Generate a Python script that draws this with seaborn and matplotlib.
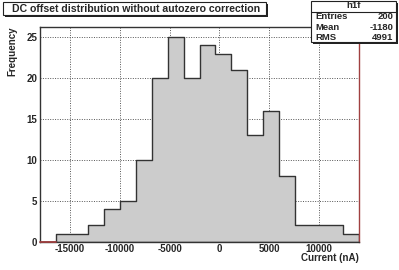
import matplotlib
matplotlib.use("Agg")
import matplotlib.pyplot as plt
import seaborn as sns
import numpy as np
from matplotlib.patches import Rectangle
from matplotlib.ticker import MultipleLocator

# ---- data ----
bin_edges = [-18000, -16400, -14800, -13200, -11600, -10000, -8400, -6800, -5200,
             -3600, -2000, -400, 1200, 2800, 4400, 6000, 7600, 9200, 10800, 12400, 14000]
counts = [0, 1, 1, 2, 4, 5, 10, 20, 25, 20, 24, 23, 21, 13, 16, 8, 2, 2, 2, 1]
x_ticks = [-15000, -10000, -5000, 0, 5000, 10000]
y_ticks = [0, 5, 10, 15, 20, 25]
title = "DC offset distribution without autozero correction"
stats_name = "h1f"
stats_labels = ["Entries", "Mean", "RMS"]
stats_values = ["200", "-1180", "4991"]
x_label = "Current (nA)"
y_label = "Frequency"

centers = [(a + b) / 2 for a, b in zip(bin_edges[:-1], bin_edges[1:])]

sns.set_style("white")
plt.rcParams['font.family'] = ['Liberation Sans', 'DejaVu Sans']
plt.rcParams['axes.unicode_minus'] = False

W, H = 399, 270
fig = plt.figure(figsize=(W / 100, H / 100), dpi=100)
ax = fig.add_axes([40 / W, 1 - 241.7 / H, 319 / W, (241.7 - 27) / H])

ax.set_axisbelow(True)
ax.grid(True, which="major", linestyle=(0, (1, 1.5)), color="#555555", linewidth=0.7)

sns.histplot(x=centers, weights=counts, bins=bin_edges, element="step", fill=True,
             color="#cccccc", edgecolor="#333333", linewidth=1.0, alpha=1.0, ax=ax,
             zorder=2)

ax.set_xlim(bin_edges[0], bin_edges[-1])
ax.set_ylim(0, 26.25)
ax.set_xticks(x_ticks)
ax.set_yticks(y_ticks)
ax.xaxis.set_minor_locator(MultipleLocator(1000))
ax.yaxis.set_minor_locator(MultipleLocator(1))
ax.tick_params(axis="both", which="major", direction="in", length=5, width=0.8,
               color="#333333", labelsize=7, pad=2)
ax.tick_params(axis="both", which="minor", direction="in", length=2.5, width=0.8,
               color="#333333")
ax.tick_params(top=False, right=False, which="both")
for lab in ax.get_xticklabels() + ax.get_yticklabels():
    lab.set_fontweight("bold")

for s in ["left", "top", "bottom"]:
    ax.spines[s].set_color("#333333")
    ax.spines[s].set_linewidth(1.0)
ax.spines["right"].set_color("#a04040")
ax.spines["right"].set_linewidth(1.0)
# red baseline on empty first bin
ax.plot([bin_edges[0], bin_edges[1]], [0, 0], color="#a04040", lw=1.3, zorder=5,
        clip_on=False)

ax.set_xlabel("")
ax.set_ylabel("")
fig.text(359 / W, 1 - 258 / H, x_label, ha="right", va="center", fontsize=7,
         fontweight="bold")
fig.text(12 / W, 1 - 26 / H, y_label, ha="center", va="top", rotation=90,
         fontsize=7, fontweight="bold")


def px(x, y):
    return (x / W, 1 - y / H)


# title box
tx0, ty0, tx1, ty1 = 3, 2, 266, 15
fig.patches.append(Rectangle(px(tx0 + 2, ty1 + 2), (tx1 - tx0) / W, (ty1 - ty0) / H,
                             transform=fig.transFigure, facecolor="#222222",
                             edgecolor="none", zorder=9))
fig.patches.append(Rectangle(px(tx0, ty1), (tx1 - tx0) / W, (ty1 - ty0) / H,
                             transform=fig.transFigure, facecolor="white",
                             edgecolor="#222222", linewidth=0.8, zorder=10))
fig.text((tx0 + tx1) / 2 / W + 2 / W, 1 - (ty0 + ty1) / 2 / H, title, ha="center",
         va="center", fontsize=7.6, fontweight="bold", zorder=11)

# stats box
sx0, sy0, sx1, sy1 = 311, 0.5, 396, 42
fig.patches.append(Rectangle(px(sx0 + 2, sy1 + 2), (sx1 - sx0) / W, (sy1 - sy0) / H,
                             transform=fig.transFigure, facecolor="#222222",
                             edgecolor="none", zorder=9))
fig.patches.append(Rectangle(px(sx0, sy1), (sx1 - sx0) / W, (sy1 - sy0) / H,
                             transform=fig.transFigure, facecolor="white",
                             edgecolor="#222222", linewidth=0.8, zorder=10))
hdr_y = 11.5
fig.add_artist(plt.Line2D([sx0 / W, sx1 / W], [1 - hdr_y / H] * 2,
                          color="#222222", lw=0.8, zorder=11))
fig.text((sx0 + sx1) / 2 / W, 1 - 5.5 / H, stats_name, ha="center",
         va="center", fontsize=6.8, fontweight="bold", zorder=12)
row_centers = [16.5, 27, 37]
for yc, lab, val in zip(row_centers, stats_labels, stats_values):
    yy = 1 - yc / H
    fig.text((sx0 + 4) / W, yy, lab, ha="left", va="center", fontsize=6.8,
             fontweight="bold", zorder=12)
    fig.text((sx1 - 3) / W, yy, val, ha="right", va="center", fontsize=6.8,
             fontweight="bold", zorder=12)

fig.savefig("out.png", dpi=100)
